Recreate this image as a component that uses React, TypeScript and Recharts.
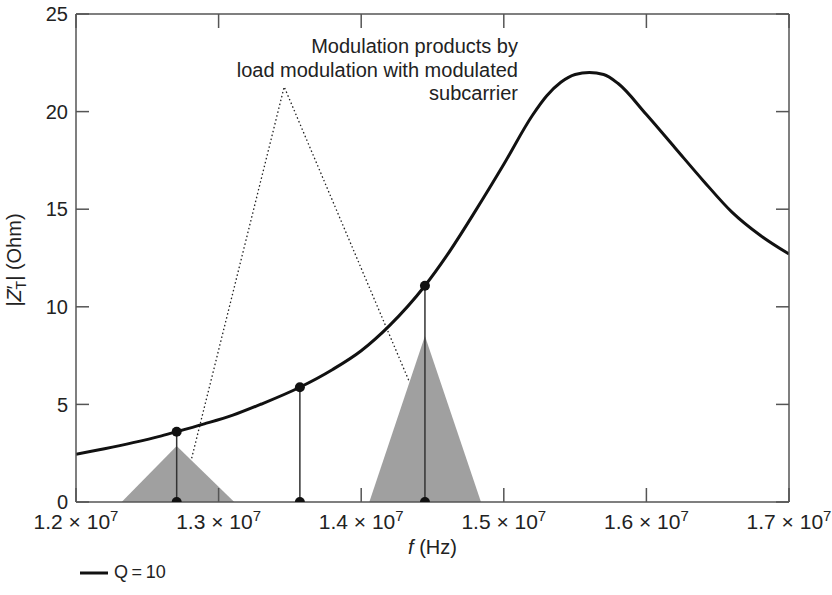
import {
  ComposedChart,
  Line,
  Area,
  XAxis,
  YAxis,
} from "recharts";

// frequencies in units of 1e7 Hz
const CURVE_F = [
  1.2, 1.22, 1.24, 1.26, 1.2706, 1.29, 1.31, 1.33, 1.357, 1.38, 1.4, 1.42,
  1.4447, 1.46, 1.48, 1.5, 1.52, 1.53, 1.54, 1.55, 1.56, 1.57, 1.58, 1.6, 1.62,
  1.64, 1.66, 1.68, 1.7,
];
const CURVE_Z = [
  2.45, 2.73, 3.04, 3.39, 3.6, 4.0, 4.45, 5.02, 5.88, 6.79, 7.75, 9.05, 11.08,
  12.62, 14.9, 17.3, 19.8, 20.8, 21.5, 21.9, 22.0, 21.9, 21.45, 19.85, 18.15,
  16.45, 14.85, 13.65, 12.7,
];

const STEM_F = [1.2706, 1.357, 1.4447];
const STEM_Z = [3.6, 5.88, 11.08];

const LOW_BAND_F = [1.232, 1.2706, 1.311];
const LOW_BAND_Z = [0, 2.87, 0];
const HIGH_BAND_F = [1.4057, 1.4447, 1.484];
const HIGH_BAND_Z = [0, 8.5, 0];

const CALLOUT_F = [1.2811, 1.346, 1.4337];
const CALLOUT_Z = [2.24, 21.27, 6.17];

const X_TICKS = [1.2, 1.3, 1.4, 1.5, 1.6, 1.7];
const Y_TICKS = [0, 5, 10, 15, 20, 25];

const NOTE_LINES = [
  "Modulation products by",
  "load modulation with modulated",
  "subcarrier",
];

const pairs = (fs: number[], zs: number[]) =>
  fs.map((f, i) => ({ f, z: zs[i] }));

const curve = pairs(CURVE_F, CURVE_Z);
const lowBand = pairs(LOW_BAND_F, LOW_BAND_Z);
const highBand = pairs(HIGH_BAND_F, HIGH_BAND_Z);
const callout = pairs(CALLOUT_F, CALLOUT_Z);
const stems = STEM_F.map((f, i) => [
  { f, z: 0 },
  { f, z: STEM_Z[i] },
]);

const AXIS = "#555";
const TEXT = "#222";
const FS = 20;

function XTick({ x, y, payload }: any) {
  return (
    <text x={x} y={y} dy="0.71em" textAnchor="middle" fill={TEXT} fontSize={21}>
      {`${payload.value.toFixed(1)} × 10`}
      <tspan dy={-8} fontSize={15}>
        7
      </tspan>
    </text>
  );
}

const Blank = () => <g />;

function YTitle({ viewBox }: any) {
  const cy = viewBox.y + viewBox.height / 2 + 2;
  return (
    <text
      x={16}
      y={cy}
      transform={`rotate(-90, 16, ${cy})`}
      textAnchor="middle"
      dominantBaseline="middle"
      fill={TEXT}
      fontSize={FS}
    >
      |<tspan fontStyle="italic">Z</tspan>
      <tspan>′</tspan>
      <tspan dx={-4} dy={6} fontSize={14}>
        T
      </tspan>
      <tspan dy={-6}>| (Ohm)</tspan>
    </text>
  );
}

function XTitle({ viewBox }: any) {
  const cx = viewBox.x + viewBox.width / 2;
  return (
    <text x={cx} y={549} textAnchor="middle" dominantBaseline="middle" fill={TEXT} fontSize={FS}>
      <tspan fontStyle="italic">f</tspan> (Hz)
    </text>
  );
}

export default function App() {
  return (
    <div
      style={{
        position: "absolute",
        left: 0,
        top: 0,
        width: 832,
        height: 595,
        background: "#fff",
        fontFamily: "'Liberation Sans', Arial, sans-serif",
      }}
    >
      <ComposedChart
        width={832}
        height={595}
        margin={{ top: 13, right: 42, bottom: 0, left: 0 }}
      >
        <XAxis
          xAxisId="b"
          dataKey="f"
          type="number"
          domain={[1.2, 1.7]}
          ticks={X_TICKS}
          allowDataOverflow
          height={93}
          stroke={AXIS}
          strokeWidth={1.5}
          tickSize={-14}
          tickMargin={26}
          tick={<XTick />}
          label={<XTitle />}
        />
        <XAxis
          xAxisId="t"
          orientation="top"
          dataKey="f"
          type="number"
          domain={[1.2, 1.7]}
          ticks={X_TICKS}
          allowDataOverflow
          height={1}
          stroke={AXIS}
          strokeWidth={1.5}
          tickSize={-14}
          tick={<Blank />}
        />
        <YAxis
          yAxisId="l"
          type="number"
          domain={[0, 25]}
          ticks={Y_TICKS}
          allowDataOverflow
          width={76}
          stroke={AXIS}
          strokeWidth={1.5}
          tickSize={-13}
          tickMargin={21}
          tick={{ fill: TEXT, fontSize: FS }}
          label={<YTitle />}
        />
        <YAxis
          yAxisId="r"
          orientation="right"
          type="number"
          domain={[0, 25]}
          ticks={Y_TICKS}
          allowDataOverflow
          width={1}
          stroke={AXIS}
          strokeWidth={1.5}
          tickSize={-13}
          tick={<Blank />}
        />

        <Area
          xAxisId="b"
          yAxisId="l"
          data={lowBand}
          dataKey="z"
          type="linear"
          fill="#a0a0a0"
          fillOpacity={1}
          stroke="none"
          isAnimationActive={false}
        />
        <Area
          xAxisId="b"
          yAxisId="l"
          data={highBand}
          dataKey="z"
          type="linear"
          fill="#a0a0a0"
          fillOpacity={1}
          stroke="none"
          isAnimationActive={false}
        />
        <Line
          xAxisId="b"
          yAxisId="l"
          data={callout}
          dataKey="z"
          type="linear"
          stroke="#222"
          strokeWidth={1.3}
          strokeDasharray="1.5 2.5"
          dot={false}
          isAnimationActive={false}
        />
        <Line
          xAxisId="b"
          yAxisId="l"
          data={curve}
          dataKey="z"
          type="monotone"
          stroke="#111"
          strokeWidth={3}
          dot={false}
          isAnimationActive={false}
        />
        {stems.map((s, i) => (
          <Line
            key={i}
            xAxisId="b"
            yAxisId="l"
            data={s}
            dataKey="z"
            type="linear"
            stroke="#333"
            strokeWidth={1.5}
            dot={{ r: 5, fill: "#111", stroke: "none" }}
            isAnimationActive={false}
          />
        ))}

        {NOTE_LINES.map((t, i) => (
          <text
            key={t}
            x={518}
            y={48 + i * 23.5}
            textAnchor="end"
            dominantBaseline="middle"
            fill={TEXT}
            fontSize={FS}
          >
            {t}
          </text>
        ))}

        <line x1={80} y1={573} x2={108} y2={573} stroke="#111" strokeWidth={3} />
        <text x={114} y={573} dominantBaseline="middle" fill={TEXT} fontSize={18}>
          Q{"\u2009=\u2009"}10
        </text>
      </ComposedChart>
    </div>
  );
}
